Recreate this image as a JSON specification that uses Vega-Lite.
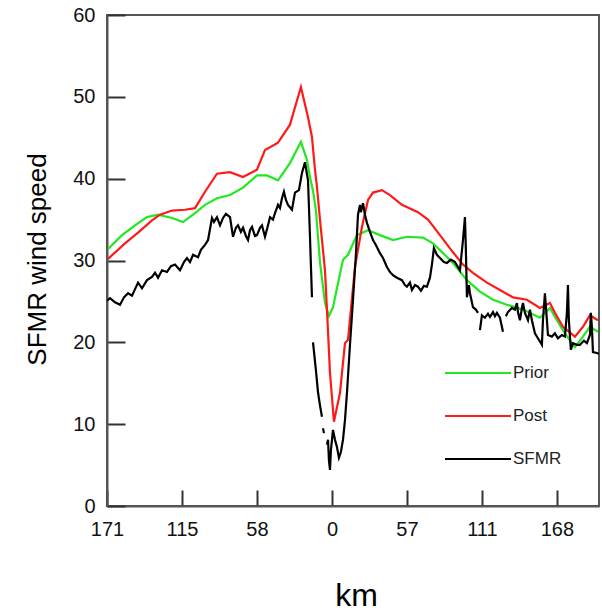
{
  "$schema": "https://vega.github.io/schema/vega-lite/v6.json",
  "width": 492,
  "height": 491,
  "autosize": {"type": "none"},
  "padding": {"left": 107, "top": 15, "right": 3, "bottom": 108},
  "config": {
    "font": "Liberation Sans",
    "view": {"stroke": "#555555", "strokeWidth": 2},
    "axis": {"grid": false, "domainColor": "#555555", "domainWidth": 2, "tickColor": "#333333", "tickWidth": 2, "labelColor": "#111111", "labelFontSize": 20, "titleFontWeight": "normal", "titleColor": "#000000"}
  },
  "data": {
    "values": [
      {"s": "Prior", "g": "P", "x": -170.2, "y": 31.4}, {"s": "Prior", "g": "P", "x": -159.6, "y": 33.1}, {"s": "Prior", "g": "P", "x": -149.7, "y": 34.3}, {"s": "Prior", "g": "P", "x": -140.6, "y": 35.3}, {"s": "Prior", "g": "P", "x": -132.2, "y": 35.6}, {"s": "Prior", "g": "P", "x": -121.6, "y": 35.2}, {"s": "Prior", "g": "P", "x": -113.2, "y": 34.7}, {"s": "Prior", "g": "P", "x": -104.1, "y": 35.8}, {"s": "Prior", "g": "P", "x": -96.5, "y": 36.8}, {"s": "Prior", "g": "P", "x": -87.4, "y": 37.6}, {"s": "Prior", "g": "P", "x": -77.5, "y": 38.0}, {"s": "Prior", "g": "P", "x": -67.6, "y": 38.9}, {"s": "Prior", "g": "P", "x": -57.0, "y": 40.4}, {"s": "Prior", "g": "P", "x": -49.4, "y": 40.4}, {"s": "Prior", "g": "P", "x": -41.0, "y": 39.8}, {"s": "Prior", "g": "P", "x": -31.9, "y": 41.9}, {"s": "Prior", "g": "P", "x": -23.6, "y": 44.5}, {"s": "Prior", "g": "P", "x": -19.0, "y": 42.3}, {"s": "Prior", "g": "P", "x": -16.7, "y": 40.2}, {"s": "Prior", "g": "P", "x": -14.4, "y": 38.5}, {"s": "Prior", "g": "P", "x": -12.2, "y": 36.2}, {"s": "Prior", "g": "P", "x": -9.1, "y": 29.8}, {"s": "Prior", "g": "P", "x": -5.3, "y": 24.8}, {"s": "Prior", "g": "P", "x": -2.3, "y": 23.2}, {"s": "Prior", "g": "P", "x": 0.8, "y": 24.3}, {"s": "Prior", "g": "P", "x": 3.8, "y": 26.6}, {"s": "Prior", "g": "P", "x": 8.4, "y": 30.1}, {"s": "Prior", "g": "P", "x": 12.2, "y": 30.7}, {"s": "Prior", "g": "P", "x": 19.0, "y": 33.1}, {"s": "Prior", "g": "P", "x": 27.4, "y": 33.7}, {"s": "Prior", "g": "P", "x": 36.5, "y": 33.1}, {"s": "Prior", "g": "P", "x": 46.4, "y": 32.5}, {"s": "Prior", "g": "P", "x": 57.0, "y": 32.9}, {"s": "Prior", "g": "P", "x": 69.2, "y": 32.8}, {"s": "Prior", "g": "P", "x": 76.8, "y": 32.1}, {"s": "Prior", "g": "P", "x": 84.4, "y": 30.9}, {"s": "Prior", "g": "P", "x": 92.0, "y": 29.7}, {"s": "Prior", "g": "P", "x": 102.6, "y": 27.6}, {"s": "Prior", "g": "P", "x": 112.5, "y": 26.2}, {"s": "Prior", "g": "P", "x": 122.4, "y": 25.2}, {"s": "Prior", "g": "P", "x": 133.0, "y": 24.6}, {"s": "Prior", "g": "P", "x": 145.2, "y": 24.0}, {"s": "Prior", "g": "P", "x": 158.1, "y": 23.0}, {"s": "Prior", "g": "P", "x": 165.7, "y": 24.2}, {"s": "Prior", "g": "P", "x": 171.0, "y": 22.7}, {"s": "Prior", "g": "P", "x": 177.1, "y": 21.1}, {"s": "Prior", "g": "P", "x": 184.7, "y": 19.4}, {"s": "Prior", "g": "P", "x": 190.8, "y": 20.7}, {"s": "Prior", "g": "P", "x": 196.1, "y": 21.9}, {"s": "Prior", "g": "P", "x": 202.2, "y": 21.3},

      {"s": "Post", "g": "Q", "x": -170.2, "y": 30.2}, {"s": "Post", "g": "Q", "x": -157.3, "y": 32.1}, {"s": "Post", "g": "Q", "x": -147.4, "y": 33.4}, {"s": "Post", "g": "Q", "x": -136.8, "y": 34.9}, {"s": "Post", "g": "Q", "x": -130.7, "y": 35.6}, {"s": "Post", "g": "Q", "x": -121.6, "y": 36.1}, {"s": "Post", "g": "Q", "x": -111.7, "y": 36.2}, {"s": "Post", "g": "Q", "x": -104.1, "y": 36.4}, {"s": "Post", "g": "Q", "x": -96.5, "y": 38.4}, {"s": "Post", "g": "Q", "x": -87.4, "y": 40.6}, {"s": "Post", "g": "Q", "x": -77.5, "y": 40.8}, {"s": "Post", "g": "Q", "x": -67.6, "y": 40.2}, {"s": "Post", "g": "Q", "x": -57.0, "y": 41.1}, {"s": "Post", "g": "Q", "x": -50.9, "y": 43.5}, {"s": "Post", "g": "Q", "x": -41.0, "y": 44.4}, {"s": "Post", "g": "Q", "x": -31.9, "y": 46.6}, {"s": "Post", "g": "Q", "x": -23.6, "y": 51.2}, {"s": "Post", "g": "Q", "x": -18.2, "y": 47.5}, {"s": "Post", "g": "Q", "x": -15.2, "y": 45.1}, {"s": "Post", "g": "Q", "x": -12.9, "y": 41.1}, {"s": "Post", "g": "Q", "x": -11.4, "y": 39.0}, {"s": "Post", "g": "Q", "x": -9.1, "y": 35.0}, {"s": "Post", "g": "Q", "x": -5.3, "y": 28.8}, {"s": "Post", "g": "Q", "x": -3.8, "y": 24.0}, {"s": "Post", "g": "Q", "x": -1.5, "y": 16.3}, {"s": "Post", "g": "Q", "x": 1.5, "y": 10.3}, {"s": "Post", "g": "Q", "x": 6.1, "y": 13.8}, {"s": "Post", "g": "Q", "x": 9.9, "y": 19.9}, {"s": "Post", "g": "Q", "x": 12.2, "y": 20.3}, {"s": "Post", "g": "Q", "x": 17.5, "y": 29.2}, {"s": "Post", "g": "Q", "x": 22.8, "y": 34.1}, {"s": "Post", "g": "Q", "x": 27.4, "y": 37.4}, {"s": "Post", "g": "Q", "x": 31.2, "y": 38.3}, {"s": "Post", "g": "Q", "x": 38.0, "y": 38.6}, {"s": "Post", "g": "Q", "x": 44.1, "y": 38.0}, {"s": "Post", "g": "Q", "x": 53.2, "y": 36.8}, {"s": "Post", "g": "Q", "x": 65.4, "y": 35.9}, {"s": "Post", "g": "Q", "x": 73.0, "y": 35.0}, {"s": "Post", "g": "Q", "x": 82.1, "y": 33.1}, {"s": "Post", "g": "Q", "x": 92.0, "y": 31.0}, {"s": "Post", "g": "Q", "x": 99.6, "y": 29.5}, {"s": "Post", "g": "Q", "x": 107.2, "y": 28.5}, {"s": "Post", "g": "Q", "x": 117.8, "y": 27.3}, {"s": "Post", "g": "Q", "x": 127.7, "y": 26.4}, {"s": "Post", "g": "Q", "x": 137.6, "y": 25.5}, {"s": "Post", "g": "Q", "x": 148.2, "y": 25.2}, {"s": "Post", "g": "Q", "x": 158.1, "y": 24.2}, {"s": "Post", "g": "Q", "x": 165.7, "y": 24.8}, {"s": "Post", "g": "Q", "x": 169.5, "y": 23.6}, {"s": "Post", "g": "Q", "x": 175.6, "y": 21.9}, {"s": "Post", "g": "Q", "x": 184.7, "y": 20.7}, {"s": "Post", "g": "Q", "x": 190.8, "y": 21.9}, {"s": "Post", "g": "Q", "x": 196.1, "y": 23.3}, {"s": "Post", "g": "Q", "x": 202.2, "y": 22.7},

      {"s": "SFMR", "g": "S1", "x": -171.0, "y": 25.1}, {"s": "SFMR", "g": "S1", "x": -168.7, "y": 25.4}, {"s": "SFMR", "g": "S1", "x": -164.9, "y": 24.9}, {"s": "SFMR", "g": "S1", "x": -161.1, "y": 24.6}, {"s": "SFMR", "g": "S1", "x": -158.1, "y": 25.5}, {"s": "SFMR", "g": "S1", "x": -155.0, "y": 26.0}, {"s": "SFMR", "g": "S1", "x": -152.0, "y": 25.7}, {"s": "SFMR", "g": "S1", "x": -147.4, "y": 27.3}, {"s": "SFMR", "g": "S1", "x": -144.4, "y": 26.6}, {"s": "SFMR", "g": "S1", "x": -140.6, "y": 27.6}, {"s": "SFMR", "g": "S1", "x": -136.8, "y": 28.0}, {"s": "SFMR", "g": "S1", "x": -134.5, "y": 28.5}, {"s": "SFMR", "g": "S1", "x": -132.2, "y": 27.9}, {"s": "SFMR", "g": "S1", "x": -129.2, "y": 28.8}, {"s": "SFMR", "g": "S1", "x": -125.4, "y": 28.6}, {"s": "SFMR", "g": "S1", "x": -122.4, "y": 29.3}, {"s": "SFMR", "g": "S1", "x": -119.3, "y": 29.5}, {"s": "SFMR", "g": "S1", "x": -115.5, "y": 28.8}, {"s": "SFMR", "g": "S1", "x": -112.5, "y": 29.8}, {"s": "SFMR", "g": "S1", "x": -110.2, "y": 30.3}, {"s": "SFMR", "g": "S1", "x": -107.9, "y": 29.8}, {"s": "SFMR", "g": "S1", "x": -105.6, "y": 30.7}, {"s": "SFMR", "g": "S1", "x": -101.8, "y": 30.4}, {"s": "SFMR", "g": "S1", "x": -99.6, "y": 31.3}, {"s": "SFMR", "g": "S1", "x": -96.5, "y": 31.9}, {"s": "SFMR", "g": "S1", "x": -94.2, "y": 32.5}, {"s": "SFMR", "g": "S1", "x": -91.2, "y": 35.2}, {"s": "SFMR", "g": "S1", "x": -89.7, "y": 34.7}, {"s": "SFMR", "g": "S1", "x": -87.4, "y": 35.3}, {"s": "SFMR", "g": "S1", "x": -85.1, "y": 34.3}, {"s": "SFMR", "g": "S1", "x": -82.8, "y": 35.2}, {"s": "SFMR", "g": "S1", "x": -80.6, "y": 35.7}, {"s": "SFMR", "g": "S1", "x": -77.5, "y": 35.3}, {"s": "SFMR", "g": "S1", "x": -75.2, "y": 32.9}, {"s": "SFMR", "g": "S1", "x": -73.0, "y": 34.0}, {"s": "SFMR", "g": "S1", "x": -71.4, "y": 34.3}, {"s": "SFMR", "g": "S1", "x": -69.2, "y": 33.5}, {"s": "SFMR", "g": "S1", "x": -67.6, "y": 34.0}, {"s": "SFMR", "g": "S1", "x": -65.4, "y": 33.0}, {"s": "SFMR", "g": "S1", "x": -63.8, "y": 32.5}, {"s": "SFMR", "g": "S1", "x": -62.3, "y": 33.7}, {"s": "SFMR", "g": "S1", "x": -60.8, "y": 34.1}, {"s": "SFMR", "g": "S1", "x": -58.5, "y": 33.0}, {"s": "SFMR", "g": "S1", "x": -57.0, "y": 33.1}, {"s": "SFMR", "g": "S1", "x": -54.7, "y": 34.0}, {"s": "SFMR", "g": "S1", "x": -53.2, "y": 34.3}, {"s": "SFMR", "g": "S1", "x": -50.9, "y": 32.9}, {"s": "SFMR", "g": "S1", "x": -48.6, "y": 34.3}, {"s": "SFMR", "g": "S1", "x": -47.1, "y": 35.3}, {"s": "SFMR", "g": "S1", "x": -44.8, "y": 35.0}, {"s": "SFMR", "g": "S1", "x": -43.3, "y": 35.8}, {"s": "SFMR", "g": "S1", "x": -41.0, "y": 36.8}, {"s": "SFMR", "g": "S1", "x": -39.5, "y": 36.4}, {"s": "SFMR", "g": "S1", "x": -38.0, "y": 37.6}, {"s": "SFMR", "g": "S1", "x": -36.5, "y": 38.4}, {"s": "SFMR", "g": "S1", "x": -35.0, "y": 37.4}, {"s": "SFMR", "g": "S1", "x": -33.4, "y": 36.8}, {"s": "SFMR", "g": "S1", "x": -30.4, "y": 36.2}, {"s": "SFMR", "g": "S1", "x": -28.1, "y": 38.3}, {"s": "SFMR", "g": "S1", "x": -25.1, "y": 38.6}, {"s": "SFMR", "g": "S1", "x": -22.8, "y": 40.7}, {"s": "SFMR", "g": "S1", "x": -20.5, "y": 42.0}, {"s": "SFMR", "g": "S1", "x": -18.2, "y": 39.8}, {"s": "SFMR", "g": "S1", "x": -16.7, "y": 32.9}, {"s": "SFMR", "g": "S1", "x": -15.2, "y": 25.5},

      {"s": "SFMR", "g": "S2", "x": -14.4, "y": 20.0}, {"s": "SFMR", "g": "S2", "x": -12.2, "y": 16.6}, {"s": "SFMR", "g": "S2", "x": -10.6, "y": 13.9}, {"s": "SFMR", "g": "S2", "x": -9.1, "y": 12.3}, {"s": "SFMR", "g": "S2", "x": -7.6, "y": 10.9},

      {"s": "SFMR", "g": "S3", "x": -6.8, "y": 9.5}, {"s": "SFMR", "g": "S3", "x": -6.1, "y": 8.9},

      {"s": "SFMR", "g": "S4", "x": -3.8, "y": 7.5}, {"s": "SFMR", "g": "S4", "x": -3.0, "y": 8.1}, {"s": "SFMR", "g": "S4", "x": -2.3, "y": 5.6}, {"s": "SFMR", "g": "S4", "x": -1.5, "y": 4.4}, {"s": "SFMR", "g": "S4", "x": -0.8, "y": 6.8}, {"s": "SFMR", "g": "S4", "x": 0.8, "y": 9.3}, {"s": "SFMR", "g": "S4", "x": 2.3, "y": 8.1}, {"s": "SFMR", "g": "S4", "x": 3.8, "y": 7.2}, {"s": "SFMR", "g": "S4", "x": 5.3, "y": 5.9}, {"s": "SFMR", "g": "S4", "x": 6.8, "y": 6.6}, {"s": "SFMR", "g": "S4", "x": 8.4, "y": 8.1}, {"s": "SFMR", "g": "S4", "x": 9.9, "y": 10.5}, {"s": "SFMR", "g": "S4", "x": 11.4, "y": 13.8}, {"s": "SFMR", "g": "S4", "x": 13.7, "y": 19.7}, {"s": "SFMR", "g": "S4", "x": 16.0, "y": 25.2}, {"s": "SFMR", "g": "S4", "x": 18.2, "y": 30.7}, {"s": "SFMR", "g": "S4", "x": 19.8, "y": 35.6}, {"s": "SFMR", "g": "S4", "x": 21.3, "y": 36.8}, {"s": "SFMR", "g": "S4", "x": 22.0, "y": 35.9}, {"s": "SFMR", "g": "S4", "x": 23.6, "y": 37.0}, {"s": "SFMR", "g": "S4", "x": 25.1, "y": 35.6}, {"s": "SFMR", "g": "S4", "x": 26.6, "y": 34.6}, {"s": "SFMR", "g": "S4", "x": 28.9, "y": 33.5}, {"s": "SFMR", "g": "S4", "x": 31.2, "y": 32.5}, {"s": "SFMR", "g": "S4", "x": 33.4, "y": 31.9}, {"s": "SFMR", "g": "S4", "x": 36.5, "y": 30.9}, {"s": "SFMR", "g": "S4", "x": 38.8, "y": 30.3}, {"s": "SFMR", "g": "S4", "x": 41.8, "y": 29.2}, {"s": "SFMR", "g": "S4", "x": 44.1, "y": 28.6}, {"s": "SFMR", "g": "S4", "x": 46.4, "y": 28.2}, {"s": "SFMR", "g": "S4", "x": 49.4, "y": 27.9}, {"s": "SFMR", "g": "S4", "x": 53.2, "y": 27.6}, {"s": "SFMR", "g": "S4", "x": 55.5, "y": 27.0}, {"s": "SFMR", "g": "S4", "x": 57.0, "y": 26.8}, {"s": "SFMR", "g": "S4", "x": 59.3, "y": 27.3}, {"s": "SFMR", "g": "S4", "x": 60.8, "y": 26.4}, {"s": "SFMR", "g": "S4", "x": 63.1, "y": 27.0}, {"s": "SFMR", "g": "S4", "x": 65.4, "y": 26.8}, {"s": "SFMR", "g": "S4", "x": 67.6, "y": 26.3}, {"s": "SFMR", "g": "S4", "x": 69.9, "y": 26.9}, {"s": "SFMR", "g": "S4", "x": 72.2, "y": 26.8}, {"s": "SFMR", "g": "S4", "x": 74.5, "y": 27.9}, {"s": "SFMR", "g": "S4", "x": 76.0, "y": 29.5}, {"s": "SFMR", "g": "S4", "x": 77.5, "y": 31.5}, {"s": "SFMR", "g": "S4", "x": 79.8, "y": 30.7}, {"s": "SFMR", "g": "S4", "x": 82.1, "y": 30.3}, {"s": "SFMR", "g": "S4", "x": 85.1, "y": 29.8}, {"s": "SFMR", "g": "S4", "x": 87.4, "y": 29.7}, {"s": "SFMR", "g": "S4", "x": 90.4, "y": 30.1}, {"s": "SFMR", "g": "S4", "x": 93.5, "y": 29.8}, {"s": "SFMR", "g": "S4", "x": 95.8, "y": 29.2}, {"s": "SFMR", "g": "S4", "x": 97.3, "y": 28.8}, {"s": "SFMR", "g": "S4", "x": 99.6, "y": 32.5}, {"s": "SFMR", "g": "S4", "x": 101.1, "y": 35.3}, {"s": "SFMR", "g": "S4", "x": 101.8, "y": 31.3}, {"s": "SFMR", "g": "S4", "x": 102.6, "y": 25.5}, {"s": "SFMR", "g": "S4", "x": 104.1, "y": 27.0}, {"s": "SFMR", "g": "S4", "x": 104.9, "y": 26.0}, {"s": "SFMR", "g": "S4", "x": 107.2, "y": 24.3}, {"s": "SFMR", "g": "S4", "x": 109.4, "y": 24.0}, {"s": "SFMR", "g": "S4", "x": 111.0, "y": 23.6},

      {"s": "SFMR", "g": "S5", "x": 112.5, "y": 21.5}, {"s": "SFMR", "g": "S5", "x": 114.0, "y": 23.3}, {"s": "SFMR", "g": "S5", "x": 116.3, "y": 23.0}, {"s": "SFMR", "g": "S5", "x": 118.6, "y": 23.5}, {"s": "SFMR", "g": "S5", "x": 120.1, "y": 23.1}, {"s": "SFMR", "g": "S5", "x": 122.4, "y": 23.7}, {"s": "SFMR", "g": "S5", "x": 123.9, "y": 23.2}, {"s": "SFMR", "g": "S5", "x": 125.4, "y": 23.6}, {"s": "SFMR", "g": "S5", "x": 127.7, "y": 23.0}, {"s": "SFMR", "g": "S5", "x": 130.0, "y": 21.3},

      {"s": "SFMR", "g": "S6", "x": 132.2, "y": 23.2}, {"s": "SFMR", "g": "S6", "x": 133.8, "y": 23.7}, {"s": "SFMR", "g": "S6", "x": 136.8, "y": 24.2}, {"s": "SFMR", "g": "S6", "x": 139.1, "y": 24.0}, {"s": "SFMR", "g": "S6", "x": 140.6, "y": 24.8}, {"s": "SFMR", "g": "S6", "x": 141.4, "y": 23.7}, {"s": "SFMR", "g": "S6", "x": 142.9, "y": 22.7}, {"s": "SFMR", "g": "S6", "x": 144.4, "y": 24.2}, {"s": "SFMR", "g": "S6", "x": 145.2, "y": 24.8}, {"s": "SFMR", "g": "S6", "x": 146.7, "y": 23.6}, {"s": "SFMR", "g": "S6", "x": 149.0, "y": 22.7}, {"s": "SFMR", "g": "S6", "x": 150.5, "y": 24.0}, {"s": "SFMR", "g": "S6", "x": 152.0, "y": 22.7}, {"s": "SFMR", "g": "S6", "x": 154.3, "y": 21.1}, {"s": "SFMR", "g": "S6", "x": 156.6, "y": 20.5}, {"s": "SFMR", "g": "S6", "x": 159.6, "y": 19.7}, {"s": "SFMR", "g": "S6", "x": 160.4, "y": 22.7}, {"s": "SFMR", "g": "S6", "x": 161.9, "y": 26.0}, {"s": "SFMR", "g": "S6", "x": 163.4, "y": 22.7}, {"s": "SFMR", "g": "S6", "x": 164.2, "y": 20.9}, {"s": "SFMR", "g": "S6", "x": 167.2, "y": 20.7}, {"s": "SFMR", "g": "S6", "x": 169.5, "y": 21.1}, {"s": "SFMR", "g": "S6", "x": 171.8, "y": 20.5}, {"s": "SFMR", "g": "S6", "x": 174.8, "y": 20.9}, {"s": "SFMR", "g": "S6", "x": 177.1, "y": 20.7}, {"s": "SFMR", "g": "S6", "x": 178.6, "y": 23.6}, {"s": "SFMR", "g": "S6", "x": 179.4, "y": 27.0}, {"s": "SFMR", "g": "S6", "x": 180.1, "y": 22.7}, {"s": "SFMR", "g": "S6", "x": 181.6, "y": 19.1}, {"s": "SFMR", "g": "S6", "x": 183.2, "y": 19.9}, {"s": "SFMR", "g": "S6", "x": 186.2, "y": 19.7}, {"s": "SFMR", "g": "S6", "x": 188.5, "y": 19.7}, {"s": "SFMR", "g": "S6", "x": 191.5, "y": 20.2}, {"s": "SFMR", "g": "S6", "x": 193.8, "y": 19.9}, {"s": "SFMR", "g": "S6", "x": 196.1, "y": 20.9}, {"s": "SFMR", "g": "S6", "x": 196.8, "y": 23.6}, {"s": "SFMR", "g": "S6", "x": 197.6, "y": 21.9}, {"s": "SFMR", "g": "S6", "x": 198.4, "y": 18.8}, {"s": "SFMR", "g": "S6", "x": 201.4, "y": 18.7}, {"s": "SFMR", "g": "S6", "x": 202.9, "y": 18.6}
    ]
  },
  "mark": {"type": "line", "strokeWidth": 2.2, "clip": true},
  "encoding": {
    "x": {
      "field": "x", "type": "quantitative",
      "scale": {"domain": [-171, 203], "nice": false, "zero": false},
      "axis": {
        "values": [-171, -114, -57, 0, 57, 114, 171],
        "labelExpr": "datum.value == -171 ? '171' : datum.value == -114 ? '115' : datum.value == -57 ? '58' : datum.value == 0 ? '0' : datum.value == 57 ? '57' : datum.value == 114 ? '111' : '168'",
        "tickSize": -16, "labelPadding": 29, "labelFlush": false,
        "title": "km", "titleFontSize": 32, "titleX": 249, "titleY": 89, "titleBaseline": "middle"
      }
    },
    "y": {
      "field": "y", "type": "quantitative",
      "scale": {"domain": [0, 60], "nice": false},
      "axis": {
        "values": [0, 10, 20, 30, 40, 50, 60],
        "tickSize": -18, "labelPadding": 30, "labelFlush": false,
        "title": "SFMR wind speed", "titleFontSize": 26, "titleX": -70, "titleY": 244, "titleAlign": "center", "titleBaseline": "middle", "titleAngle": -90
      }
    },
    "color": {
      "field": "s", "type": "nominal",
      "scale": {"domain": ["Prior", "Post", "SFMR"], "range": ["#22e822", "#ff1a1a", "#000000"]},
      "legend": {
        "title": null, "orient": "none", "legendX": 359, "legendY": 346, "padding": 0,
        "symbolType": "M-3,0H3", "symbolSize": 484, "symbolStrokeWidth": 2,
        "labelFontSize": 17, "labelColor": "#222222", "labelOffset": 23, "rowPadding": 23
      }
    },
    "detail": {"field": "g"}
  }
}
